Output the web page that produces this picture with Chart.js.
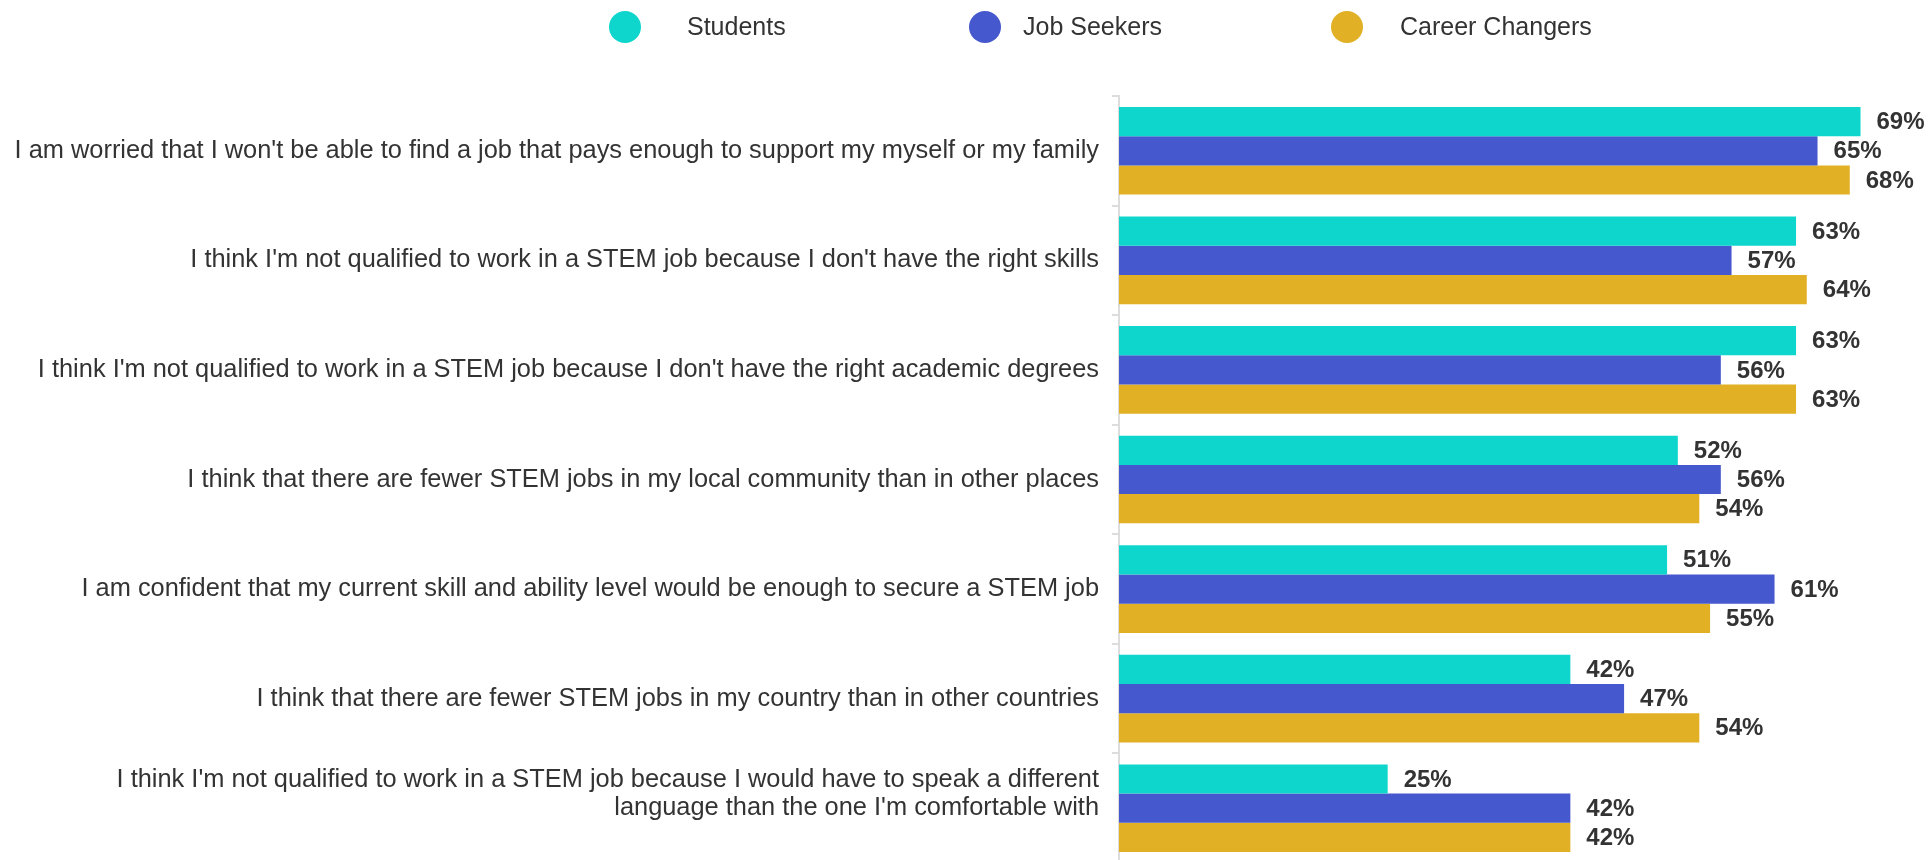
<!DOCTYPE html>
<html>
<head>
<meta charset="utf-8">
<script src="https://cdn.jsdelivr.net/npm/chart.js@4.4.1/dist/chart.umd.min.js"></script>
<style>
  html, body { margin: 0; padding: 0; background: #ffffff; overflow: hidden; }
  #wrap { width: 1931px; height: 863px; }
</style>
</head>
<body>
<div id="wrap"><canvas id="stemChart" width="1931" height="863"></canvas></div>
<script>
const categories = [
  "I am worried that I won't be able to find a job that pays enough to support my myself or my family",
  "I think I'm not qualified to work in a STEM job because I don't have the right skills",
  "I think I'm not qualified to work in a STEM job because I don't have the right academic degrees",
  "I think that there are fewer STEM jobs in my local community than in other places",
  "I am confident that my current skill and ability level would be enough to secure a STEM job",
  "I think that there are fewer STEM jobs in my country than in other countries",
  ["I think I'm not qualified to work in a STEM job because I would have to speak a different",
   "language than the one I'm comfortable with", ""]
];
const seriesNames = ["Students", "Job Seekers", "Career Changers"];
const students = [69, 63, 63, 52, 51, 42, 25];
const jobSeekers = [65, 57, 56, 56, 61, 47, 42];
const careerChangers = [68, 64, 63, 54, 55, 54, 42];
const colors = ["#0fd6cc", "#4658cd", "#e1b024"];

document.addEventListener("DOMContentLoaded", function () {
  const ctx = document.getElementById("stemChart").getContext("2d");
  const FONT = '"Liberation Sans", Arial, sans-serif';

  // legend drawn by hand so the wide gaps of the original can be kept
  const legendPos = [[625, 687], [985, 1023], [1347, 1400]];
  const topLegend = {
    id: "topLegend",
    afterDraw(chart) {
      const c = chart.ctx;
      c.save();
      c.font = "25px " + FONT;
      c.textBaseline = "middle";
      chart.data.datasets.forEach((ds, i) => {
        const [cx, tx] = legendPos[i];
        c.fillStyle = ds.backgroundColor;
        c.beginPath();
        c.arc(cx, 27, 16, 0, Math.PI * 2);
        c.fill();
        c.fillStyle = "#333333";
        c.fillText(ds.label, tx, 28);
      });
      c.restore();
    }
  };

  const valueLabels = {
    id: "valueLabels",
    afterDatasetsDraw(chart) {
      const c = chart.ctx;
      c.save();
      c.font = "bold 24px " + FONT;
      c.fillStyle = "#333333";
      c.textBaseline = "middle";
      chart.data.datasets.forEach((ds, i) => {
        chart.getDatasetMeta(i).data.forEach((bar, j) => {
          c.fillText(ds.data[j] + "%", bar.x + 16, bar.y + 1);
        });
      });
      c.restore();
    }
  };

  const data = {
    labels: categories,
    datasets: [
      { label: seriesNames[0], data: students, backgroundColor: colors[0] },
      { label: seriesNames[1], data: jobSeekers, backgroundColor: colors[1] },
      { label: seriesNames[2], data: careerChangers, backgroundColor: colors[2] }
    ]
  };

  const config = {
    type: "bar",
    data: data,
    options: {
      indexAxis: "y",
      responsive: false,
      animation: false,
      categoryPercentage: 0.8,
      barPercentage: 1.0,
      layout: { padding: { top: 96, right: 6, bottom: 0, left: 0 } },
      plugins: {
        legend: { display: false },
        tooltip: { enabled: false }
      },
      scales: {
        x: {
          display: false,
          min: 0,
          max: 75
        },
        y: {
          afterFit: function (scale) {
            scale.width = 1119;
            // the bottom rows run off the page in the original, so no label padding
            scale.paddingTop = 0;
            scale.paddingBottom = 0;
          },
          border: { display: true, color: "#dddddd", width: 2 },
          grid: { drawOnChartArea: false, drawTicks: true, tickLength: 7, color: "#dddddd", lineWidth: 2 },
          ticks: {
            color: "#333333",
            padding: 13,
            font: { family: FONT, size: 25.4, lineHeight: 1.12 }
          }
        }
      }
    },
    plugins: [topLegend, valueLabels]
  };

  new Chart(ctx, config);
});
</script>
</body>
</html>
